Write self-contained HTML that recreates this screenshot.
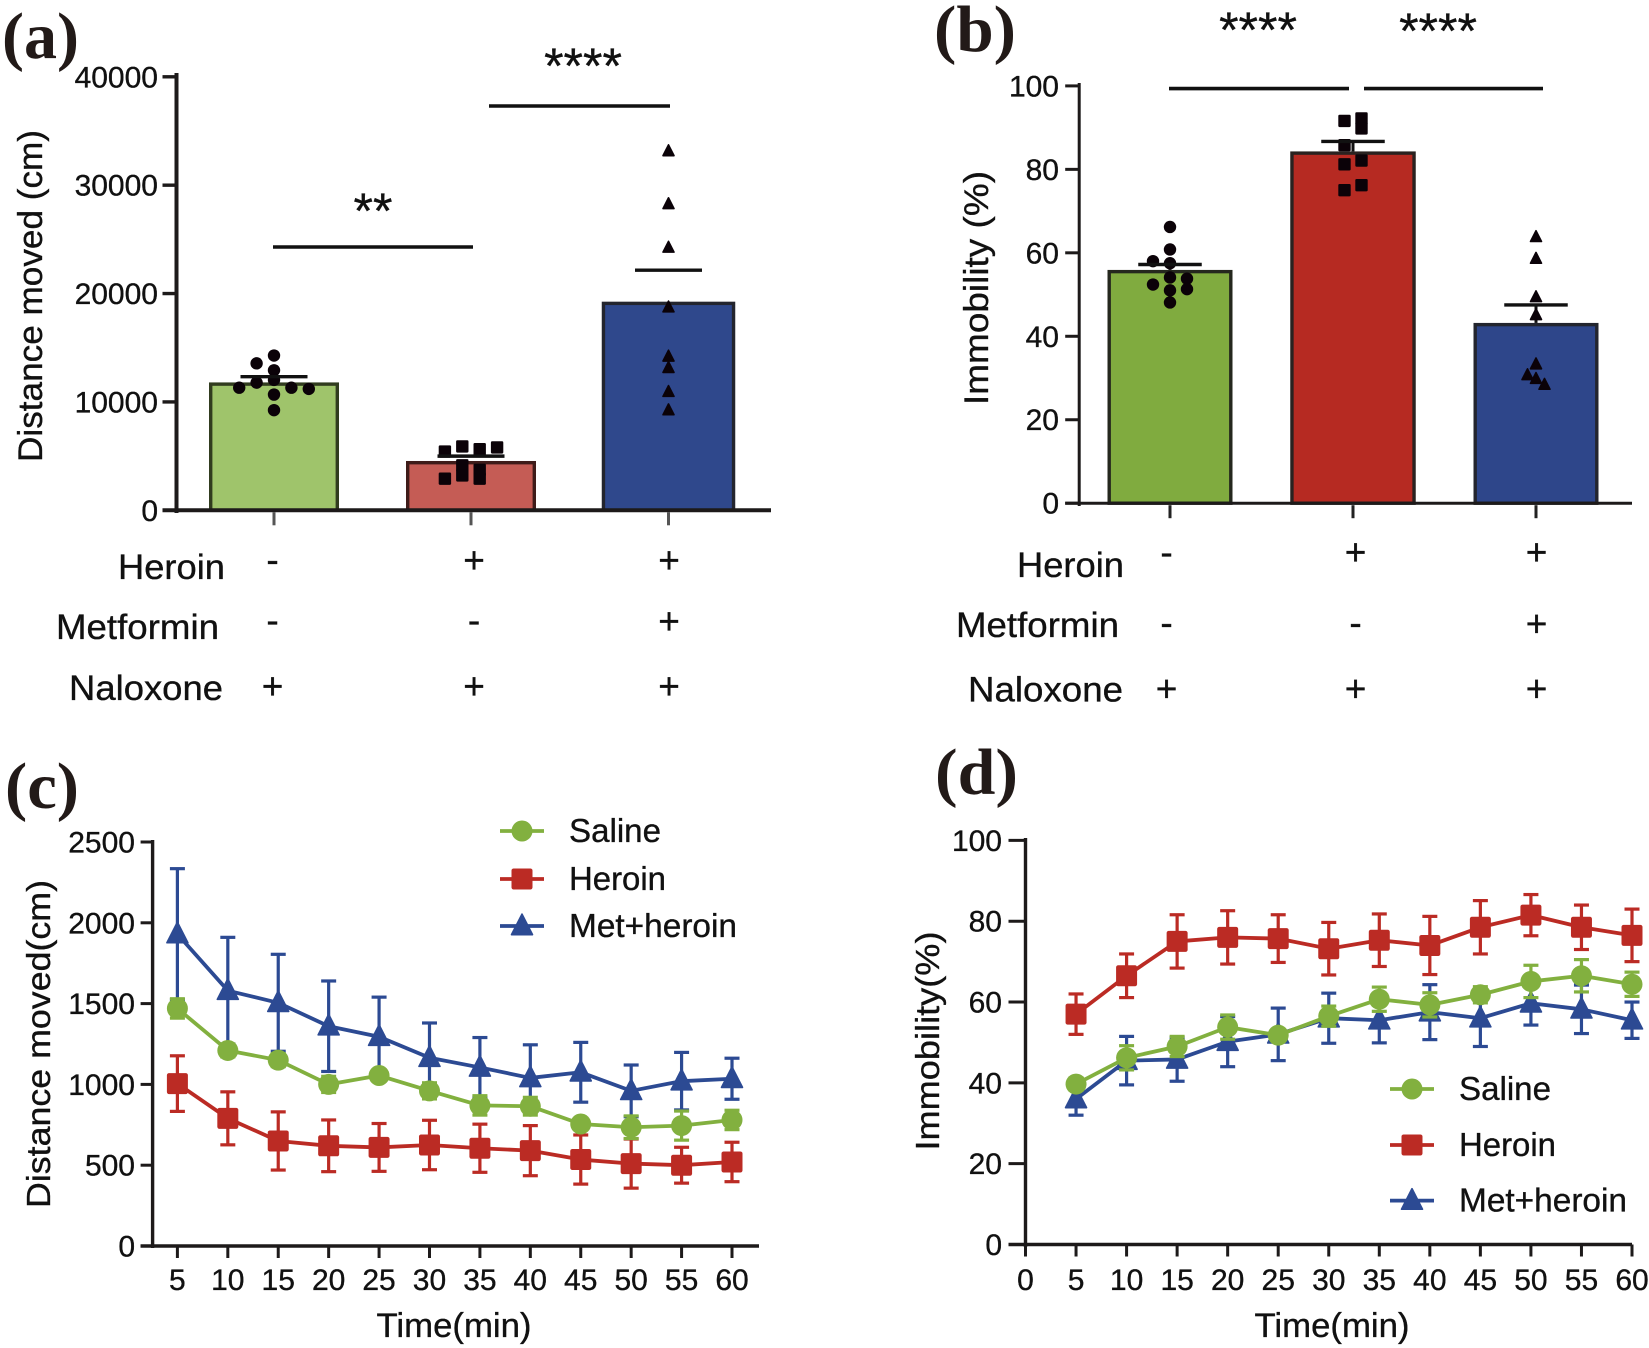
<!DOCTYPE html>
<html lang="en">
<head>
<meta charset="utf-8">
<title>Heroin, metformin and naloxone locomotor results</title>
<style>
html,body{margin:0;padding:0;background:#fff;}
#figure{display:block;width:1649px;height:1348px;font-family:"Liberation Sans",sans-serif;}
.panel-letter{font-family:"Liberation Serif",serif;font-weight:bold;font-size:66px;fill:#221a18;}
</style>
</head>
<body>
<svg id="figure" xmlns="http://www.w3.org/2000/svg" width="1649" height="1348" viewBox="0 0 1649 1348">
  <rect x="0" y="0" width="1649" height="1348" fill="#ffffff"/>
  <text class="panel-letter" x="2" y="58" textLength="77" lengthAdjust="spacingAndGlyphs">(a)</text>
  <text class="panel-letter" x="934" y="51" textLength="82" lengthAdjust="spacingAndGlyphs">(b)</text>
  <text class="panel-letter" x="5" y="808" textLength="74" lengthAdjust="spacingAndGlyphs">(c)</text>
  <text class="panel-letter" x="935" y="794" textLength="83" lengthAdjust="spacingAndGlyphs">(d)</text>
</svg>
<script>
/* ---------- panel (a) data ---------- */
const aTicks = [0, 10000, 20000, 30000, 40000];
const aMeans = [11800, 4550, 19250];
const aErrors = [530, 450, 2910];
const aSalinePoints = [14280, 13560, 12920, 12030, 11780, 11310, 11310, 11200, 10680, 9240];
const aHeroinPoints = [5890, 5640, 5420, 5800, 4150, 3730, 3220, 2920, 2920];
const aMetPoints = [33140, 28260, 24240, 18730, 14190, 13140, 10930, 9240];

/* ---------- panel (b) data ---------- */
const bTicks = [0, 20, 40, 60, 80, 100];
const bMeans = [55.9, 84.3, 43.2];
const bErrors = [1.3, 2.4, 4.3];
const bSalinePoints = [66.2, 60.8, 57.5, 58.0, 54.1, 52.4, 53.8, 51.0, 51.3, 48.1];
const bHeroinPoints = [91.6, 92.2, 89.8, 85.8, 81.2, 82.1, 75.0, 76.2];
const bMetPoints = [63.8, 58.6, 49.4, 45.1, 33.3, 30.7, 29.8, 28.4];

/* ---------- shared condition table ---------- */
const conditionNames = ['Heroin', 'Metformin', 'Naloxone'];
const heroinSigns = ['-', '+', '+'];
const metforminSigns = ['-', '-', '+'];
const naloxoneSigns = ['+', '+', '+'];

/* ---------- panel (c) data ---------- */
const timeMinutes = [5, 10, 15, 20, 25, 30, 35, 40, 45, 50, 55, 60];
const cTicks = [0, 500, 1000, 1500, 2000, 2500];
const cSaline = [1470, 1210, 1150, 1000, 1055, 960, 870, 865, 755, 735, 745, 780];
const cSalineErr = [60, 40, 40, 50, 20, 50, 60, 55, 25, 70, 90, 60];
const cHeroin = [1005, 790, 650, 620, 610, 625, 605, 590, 535, 510, 500, 520];
const cHeroinErr = [172, 164, 180, 160, 148, 153, 149, 155, 152, 152, 111, 122];
const cMet = [1930, 1580, 1505, 1360, 1295, 1165, 1105, 1040, 1075, 960, 1020, 1035];
const cMetErr = [405, 330, 300, 280, 245, 215, 185, 205, 185, 160, 178, 127];

/* ---------- panel (d) data ---------- */
const dXTicks = [0, 5, 10, 15, 20, 25, 30, 35, 40, 45, 50, 55, 60];
const dTicks = [0, 20, 40, 60, 80, 100];
const dSaline = [39.7, 46.2, 49, 53.8, 51.8, 56.5, 60.7, 59.3, 61.8, 65.1, 66.5, 64.4];
const dSalineErr = [1.5, 3, 2.5, 3, 1, 2.5, 3, 3, 2, 4, 4, 3];
const dHeroin = [57, 66.5, 75, 76, 75.7, 73.2, 75.3, 74, 78.5, 81.5, 78.5, 76.5];
const dHeroinErr = [5, 5.4, 6.6, 6.6, 5.9, 6.5, 6.5, 7.2, 6.6, 5.1, 5.5, 6.5];
const dMet = [36, 45.5, 45.8, 50.2, 52, 56, 55.5, 57.5, 56, 59.7, 58.2, 55.5];
const dMetErr = [4, 6, 5.4, 6.2, 6.5, 6.2, 5.6, 6.8, 7, 5.4, 6, 4.5];

const legendNames = ['Saline', 'Heroin', 'Met+heroin'];

/* ---------- helpers ---------- */
const NS = 'http://www.w3.org/2000/svg';
const root = document.getElementById('figure');
const INK = '#1d1a1a';
const GREEN = '#82b03f', RED = '#bb2b24', BLUE = '#2c4a93';

function mk(tag, attrs, parent, name) {
  const el = document.createElementNS(NS, tag);
  for (const k in attrs) el.setAttribute(k, attrs[k]);
  
  
  parent.appendChild(el);
  return el;
}
function linear(d0, d1, r0, r1) {
  return function (v) { return r0 + (v - d0) * (r1 - r0) / (d1 - d0); };
}
function seg(p, name, x1, y1, x2, y2, stroke, w) {
  return mk('line', { x1: x1, y1: y1, x2: x2, y2: y2, stroke: stroke, 'stroke-width': w }, p, name);
}
function label(p, name, str, x, y, size, anchor, width, rotate) {
  const a = { x: x, y: y, 'font-size': size, 'text-anchor': anchor || 'start', fill: '#111', stroke: '#111', 'stroke-width': 0.35 };
  if (width) { a.textLength = width; a.lengthAdjust = 'spacingAndGlyphs'; }
  if (rotate) a.transform = 'rotate(-90 ' + x + ' ' + y + ')';
  const el = mk('text', a, p, name);
  el.textContent = str;
  return el;
}
function marker(p, name, kind, cx, cy, size, fill) {
  const r = size / 2;
  if (kind === 'circle') return mk('circle', { cx: cx, cy: cy, r: r, fill: fill }, p, name);
  if (kind === 'square') return mk('rect', { x: cx - r, y: cy - r, width: size, height: size, rx: size * 0.1, fill: fill }, p, name);
  const h = size * 0.98;
  return mk('path', { d: 'M' + cx + ' ' + (cy - h * 0.58) + 'L' + (cx + r) + ' ' + (cy + h * 0.42) + 'L' + (cx - r) + ' ' + (cy + h * 0.42) + 'Z', fill: fill, 'stroke': fill, 'stroke-width': 1.6, 'stroke-linejoin': 'round' }, p, name);
}
function drawYAxis(p, scale, ticks, cfg) {
  seg(p, 'y-axis-line', cfg.x, cfg.top, cfg.x, cfg.bottom, INK, cfg.w);
  ticks.forEach(function (t) {
    const y = scale(t);
    seg(p, 'y-tick-' + t, cfg.x - cfg.tick, y, cfg.x, y, INK, cfg.tw);
    label(p, 'y-tick-label-' + t, String(t), cfg.labelX, y + 10.5, cfg.fs, 'end');
  });
}
/* greedy swarm: each value takes the first column in `columns` with no vertical collision */
function swarm(values, scale, columns, gap) {
  const placed = [];
  return values.map(function (v) {
    const y = scale(v);
    let col = columns[0];
    for (let i = 0; i < columns.length; i++) {
      const free = placed.every(function (q) { return q.col !== columns[i] || Math.abs(q.y - y) >= gap; });
      if (free) { col = columns[i]; break; }
    }
    const pt = { col: col, y: y };
    placed.push(pt);
    return pt;
  });
}
function drawBarPanel(cfg) {
  const g = mk('g', {}, root, cfg.name);
  const y = cfg.y;
  cfg.groups.forEach(function (b, i) {
    const cx = cfg.centers[i], half = cfg.barW[i] / 2, top = y(cfg.means[i]), base = y(0);
    mk('rect', { x: cx - half + 1.7, y: top + 1.7, width: half * 2 - 3.4, height: base - top - 1.7, fill: b.fill, stroke: b.edge, 'stroke-width': 3.4 }, g, 'bar-' + b.id);
    const capY = y(cfg.means[i] + cfg.errors[i]);
    if (cfg.showWhisker) seg(g, 'error-whisker-' + b.id, cx, top, cx, capY, '#111', 3);
    swarm(b.points, y, b.columns, b.gap).forEach(function (pt) {
      marker(g, 'point-' + b.id, b.kind, cx + pt.col * cfg.step, pt.y, b.kind === 'triangle' ? 11 : 12.4, '#0b0208');
    });
    seg(g, 'error-cap-' + b.id, cx - cfg.capW / 2, capY, cx + cfg.capW / 2, capY, '#111', 3.4);
    seg(g, 'x-tick-' + b.id, cx, base + 2, cx, base + 15, cfg.tickColor, 3);
  });
  drawYAxis(g, y, cfg.ticks, cfg.axis);
  seg(g, 'x-axis-line', cfg.axis.x - cfg.axis.tick, y(0), cfg.xEnd, y(0), INK, cfg.axis.w);
  label(g, 'y-axis-title', cfg.title, cfg.titleX, cfg.titleY, 34, 'middle', cfg.titleLen, true);
  cfg.sig.forEach(function (s) {
    seg(g, 'significance-line', s.x1, s.y, s.x2, s.y, '#111', 3.6);
    label(g, 'significance-stars', s.stars, s.sx, s.sy, 50, 'middle');
  });
  cfg.rows.forEach(function (r, i) {
    label(g, 'row-label-' + r.name.toLowerCase(), r.name, r.x, r.base, 35.5, 'start', r.len);
    r.signs.forEach(function (sign, j) {
      const base = r.cy[sign] + (sign === '+' ? 12 : 8.5);
      label(g, 'sign-' + r.name.toLowerCase() + '-' + j, sign, cfg.signX[j], base, 37, 'middle');
    });
  });
}
function drawLinePanel(cfg) {
  const g = mk('g', {}, root, cfg.name);
  const x = cfg.x, y = cfg.y;
  drawYAxis(g, y, cfg.ticks, cfg.axis);
  seg(g, 'x-axis-line', cfg.axis.x - cfg.axis.tick, y(0), cfg.xEnd, y(0), INK, cfg.axis.w);
  cfg.xTicks.forEach(function (t) {
    seg(g, 'x-tick-' + t, x(t), y(0), x(t), y(0) + 12, INK, 3);
    label(g, 'x-tick-label-' + t, String(t), x(t), 1290, 30, 'middle');
  });
  cfg.series.forEach(function (s) {
    const sg = mk('g', {}, g, 'series-' + s.id);
    timeMinutes.forEach(function (t, i) {
      const top = y(s.values[i] + s.errors[i]), bot = y(s.values[i] - s.errors[i]), px = x(t);
      seg(sg, 'error-whisker-' + s.id, px, top, px, bot, s.color, 3.2);
      seg(sg, 'error-cap-top-' + s.id, px - 7.5, top, px + 7.5, top, s.color, 3.2);
      seg(sg, 'error-cap-bottom-' + s.id, px - 7.5, bot, px + 7.5, bot, s.color, 3.2);
    });
    const pts = timeMinutes.map(function (t, i) { return x(t) + ',' + y(s.values[i]); }).join(' ');
    mk('polyline', { points: pts, fill: 'none', stroke: s.color, 'stroke-width': 3.8, 'stroke-linejoin': 'round' }, sg, 'line-' + s.id);
    timeMinutes.forEach(function (t, i) {
      marker(sg, 'marker-' + s.id, s.kind, x(t), y(s.values[i]), s.kind === 'square' ? 21 : 21, s.color);
    });
  });
  label(g, 'y-axis-title', cfg.title, cfg.titleX, cfg.titleY, 33, 'middle', cfg.titleLen, true);
  label(g, 'x-axis-title', 'Time(min)', cfg.xTitleX, 1337, 34, 'middle', 155);
  cfg.legend.forEach(function (e, i) {
    const lg = mk('g', {}, g, 'legend-entry-' + e.id);
    seg(lg, 'legend-line-' + e.id, cfg.legendX, e.y, cfg.legendX + 44, e.y, e.color, 3.8);
    marker(lg, 'legend-marker-' + e.id, e.kind, cfg.legendX + 22, e.y, 21, e.color);
    label(lg, 'legend-label-' + e.id, legendNames[i], cfg.legendX + 69, e.y + 11, 33, 'start', e.len);
  });
}

/* ---------- build panels ---------- */
drawBarPanel({
  name: 'panel-a-distance-bars',
  showWhisker: false,
  y: linear(0, 40000, 510.3, 76.8),
  ticks: aTicks, means: aMeans, errors: aErrors,
  centers: [274, 471, 668.5], barW: [130, 130, 133.5], step: 17.4, capW: 67, tickColor: '#555',
  groups: [
    { id: 'saline', fill: '#9fc46b', edge: '#313c1f', kind: 'circle', points: aSalinePoints, columns: [0, -1, 1, -2, 2], gap: 9.5 },
    { id: 'heroin', fill: '#c55c55', edge: '#3f1c1a', kind: 'square', points: aHeroinPoints, columns: [-0.5, 0.5, -1.5, 1.5], gap: 6 },
    { id: 'met-heroin', fill: '#2f488c', edge: '#23252e', kind: 'triangle', points: aMetPoints, columns: [0], gap: 1 }
  ],
  axis: { x: 176.5, top: 73, bottom: 513, tick: 14, w: 4, tw: 3.4, labelX: 158, fs: 30 },
  xEnd: 771,
  title: 'Distance moved (cm)', titleX: 42, titleY: 296, titleLen: 332,
  sig: [
    { x1: 273, x2: 473, y: 247, stars: '**', sx: 373, sy: 228 },
    { x1: 489, x2: 670, y: 106, stars: '****', sx: 583, sy: 83 }
  ],
  signX: [272.6, 474, 669],
  rows: [
    { name: conditionNames[0], x: 118, base: 579, len: 107, signs: heroinSigns, cy: { '-': 564, '+': 561 } },
    { name: conditionNames[1], x: 56, base: 639, len: 163, signs: metforminSigns, cy: { '-': 624.5, '+': 622 } },
    { name: conditionNames[2], x: 69, base: 700, len: 154, signs: naloxoneSigns, cy: { '-': 687, '+': 687 } }
  ]
});

drawBarPanel({
  name: 'panel-b-immobility-bars',
  showWhisker: true,
  y: linear(0, 100, 503.2, 85.9),
  ticks: bTicks, means: bMeans, errors: bErrors,
  centers: [1170, 1353, 1536], barW: [125, 125.5, 125], step: 17, capW: 63.5, tickColor: '#222',
  groups: [
    { id: 'saline', fill: '#80ab3f', edge: '#25281e', kind: 'circle', points: bSalinePoints, columns: [0, -1, 1, -2, 2], gap: 10 },
    { id: 'heroin', fill: '#b62a22', edge: '#2a2220', kind: 'square', points: bHeroinPoints, columns: [-0.5, 0.5], gap: 8 },
    { id: 'met-heroin', fill: '#2e468a', edge: '#23252e', kind: 'triangle', points: bMetPoints, columns: [0, -0.5, 0.5], gap: 11 }
  ],
  axis: { x: 1079.2, top: 83, bottom: 506, tick: 14, w: 3, tw: 3, labelX: 1059, fs: 30 },
  xEnd: 1632,
  title: 'Immobility (%)', titleX: 988, titleY: 288, titleLen: 234,
  sig: [
    { x1: 1169, x2: 1349, y: 88.6, stars: '****', sx: 1258, sy: 47 },
    { x1: 1364, x2: 1543, y: 88.6, stars: '****', sx: 1438, sy: 48 }
  ],
  signX: [1166.6, 1355.5, 1536.6],
  rows: [
    { name: conditionNames[0], x: 1017, base: 577, len: 107, signs: heroinSigns, cy: { '-': 556.5, '+': 553 } },
    { name: conditionNames[1], x: 956, base: 637, len: 163, signs: metforminSigns, cy: { '-': 627, '+': 624.5 } },
    { name: conditionNames[2], x: 968, base: 701.6, len: 155, signs: naloxoneSigns, cy: { '-': 689.5, '+': 689.5 } }
  ]
});

drawLinePanel({
  name: 'panel-c-distance-time-course',
  x: linear(5, 60, 177.4, 732),
  y: linear(0, 2500, 1246, 842),
  ticks: cTicks, xTicks: timeMinutes,
  axis: { x: 152.6, top: 840, bottom: 1248, tick: 12, w: 3.4, tw: 3, labelX: 135, fs: 30 },
  xEnd: 759,
  series: [
    { id: 'met-heroin', color: BLUE, kind: 'triangle', values: cMet, errors: cMetErr },
    { id: 'heroin', color: RED, kind: 'square', values: cHeroin, errors: cHeroinErr },
    { id: 'saline', color: GREEN, kind: 'circle', values: cSaline, errors: cSalineErr }
  ],
  title: 'Distance moved(cm)', titleX: 50, titleY: 1044, titleLen: 328,
  xTitleX: 454,
  legendX: 500,
  legend: [
    { id: 'saline', color: GREEN, kind: 'circle', y: 831, len: 92 },
    { id: 'heroin', color: RED, kind: 'square', y: 879, len: 97 },
    { id: 'met-heroin', color: BLUE, kind: 'triangle', y: 926, len: 168 }
  ]
});

drawLinePanel({
  name: 'panel-d-immobility-time-course',
  x: linear(0, 60, 1025.5, 1632),
  y: linear(0, 100, 1244.5, 840.4),
  ticks: dTicks, xTicks: dXTicks,
  axis: { x: 1025.5, top: 838, bottom: 1247, tick: 17, w: 3.4, tw: 3, labelX: 1002, fs: 30 },
  xEnd: 1632,
  series: [
    { id: 'met-heroin', color: BLUE, kind: 'triangle', values: dMet, errors: dMetErr },
    { id: 'heroin', color: RED, kind: 'square', values: dHeroin, errors: dHeroinErr },
    { id: 'saline', color: GREEN, kind: 'circle', values: dSaline, errors: dSalineErr }
  ],
  title: 'Immobility(%)', titleX: 939, titleY: 1041, titleLen: 219,
  xTitleX: 1332,
  legendX: 1390,
  legend: [
    { id: 'saline', color: GREEN, kind: 'circle', y: 1089, len: 92 },
    { id: 'heroin', color: RED, kind: 'square', y: 1145, len: 97 },
    { id: 'met-heroin', color: BLUE, kind: 'triangle', y: 1200.6, len: 168 }
  ]
});
</script>
</body>
</html>
